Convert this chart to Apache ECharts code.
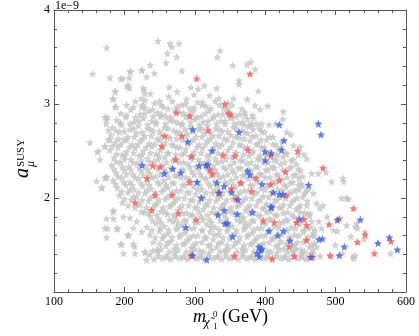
<!DOCTYPE html>
<html><head><meta charset="utf-8">
<script src="https://cdn.jsdelivr.net/npm/echarts/dist/echarts.min.js"></script>
<style>html,body{margin:0;padding:0;background:#fff}#c{width:419px;height:336px}</style>
</head><body><div id="c"></div>
<script>
// values of a_mu^SUSY are in units of 1e-9
const xTicks = [100, 200, 300, 400, 500, 600];
const yTicks = [1, 2, 3, 4];
const yExponent = '1e\u22129';

const grayOuter = [
[247.7,3.67],[174.8,3.60],[264.8,3.645],[267.1,3.61],[277.5,3.645],[335.8,3.57],[332,3.50],[261,3.54],[274.3,3.50],[259.1,3.44],
[154.9,3.32],[208.9,3.34],[179.5,3.28],[194.7,3.27],[225,3.36],[236.8,3.415],[242.5,3.33],[231.6,3.29],[281.8,3.355],[353.8,3.41],
[374.1,3.42],[379.4,3.447],[385.5,3.37],[362.8,3.25],[362.8,3.21],[331.1,3.167],[390.3,3.14],[313.5,3.195],[294.4,3.177],[204.2,3.184],
[207,3.167],[187.1,3.14],[184.4,3.05],[188.1,2.97],[263.8,3.18],[374.6,3.05],[403.5,2.98],[385.6,2.986],[392.9,2.943],[425.8,2.92],
[424.8,2.84],[415.3,2.79],[405.3,2.78],[387.9,2.79],[375.6,2.766],[151.1,2.59],[161.6,2.49],[165.3,2.41],[160.6,2.18],[168.2,2.11],
[175.8,2.86],[173.9,2.79],[177.2,2.72],[179.5,2.62],[172.4,2.546],[173.9,2.227],[174.8,1.78],[175.8,1.677],[174.8,1.58],[184.3,1.855],
[190.4,1.67],[198.5,1.41],[194.7,1.507],[214.6,1.482],[231.6,1.34],[229.2,1.42],[205.6,1.60],
[436.2,2.674],[449.4,2.546],[455.1,2.465],[458.9,2.42],[466,2.26],[475.5,2.26],[486.4,2.273],[494.3,2.174],[511.4,2.174],[510.4,2.21],
[508.6,2.0],[515.7,2.0],[518,1.99],[477.8,1.89],[480.2,1.677],[496.7,1.66],[502.4,1.65],[527.8,1.695],[531.1,1.68],[540.6,1.564],
[521.6,1.59],[499.6,1.50],[510,1.41],[524.4,1.376],[525.8,1.355],[578.1,1.41],[494.4,1.376],[477.8,1.383],[468.3,1.41],[451.8,1.41],
[439.9,1.44],[473,1.482],[468.3,1.624],[463.6,1.837],[470.7,1.66],[473.1,1.943],[468.3,2.05],[461.3,2.10],[447.1,2.138],
[184.3,1.78],[172.4,1.68],[198.5,1.80],[208,1.79],[217.5,1.75],[205.5,1.61],[196.2,1.51],[212.7,1.51],[215.1,1.41],[229.3,1.43],
[212.7,1.68],[224.6,1.64],[224.6,1.855],[189,1.68],[197.6,3.27],[207,3.28],[208,3.35],[224.6,3.36],[205.5,3.20],[186.6,3.13],
[183.4,3.06],[186.6,2.97],[226.8,3.17],[229.3,3.11],[224.6,2.97],[229.3,3.04],[172.4,2.86],[174.8,2.83],[162.9,2.50],[172.4,2.55],
[177.1,2.62],[167.7,2.11],[172.4,2.21],[174.8,2.22],[184.3,1.87],[354.7,3.06],[371.3,2.88],[383.1,2.85],[395,2.79],[368.9,2.78],
[440,2.56],[447,2.46],[430.6,2.70],[482,1.92],[488,1.80],[476,1.75],[515.8,1.71],[530,1.73],[541.8,1.64],[527.6,1.39]
];

const grayCore = [
[224,3.06],[237,3.11],[250,3.03],[263,3.08],[275,3.13],[288,3.05],[299,3.10],[311,3.02],[321,3.09],[334,3.06],[347,3.01],[228,3.15],[305,3.16],
[203,2.99],[216,3.03],[229,2.96],[243,3.01],[255,2.97],[268,3.03],[281,2.99],[293,2.95],[304,3.02],[316,2.98],[329,3.03],[341,2.96],[353,2.99],[367,2.95],
[195,2.90],[209,2.94],[222,2.89],[235,2.93],[247,2.91],[259,2.87],[272,2.94],[284,2.90],[297,2.92],[309,2.87],[320,2.93],[333,2.89],[346,2.92],[358,2.87],[371,2.91],[382,2.88],
[189,2.83],[202,2.86],[214,2.81],[227,2.85],[239,2.82],[251,2.87],[264,2.83],[276,2.80],[287,2.86],[300,2.84],[312,2.81],[325,2.85],[337,2.82],[350,2.86],[362,2.80],[375,2.84],
[183,2.75],[196,2.78],[208,2.73],[220,2.77],[233,2.74],[245,2.79],[257,2.75],[270,2.72],[282,2.78],[294,2.76],[306,2.73],[318,2.77],[330,2.74],[343,2.79],[355,2.75],[367,2.72],[379,2.77],[392,2.74],
[181,2.67],[193,2.70],[205,2.65],[217,2.69],[229,2.66],[241,2.71],[253,2.67],[265,2.64],[278,2.70],[290,2.68],[302,2.65],[314,2.69],[326,2.66],[339,2.71],[351,2.67],[363,2.64],[375,2.69],[387,2.66],[399,2.70],[411,2.65],
[187,2.59],[199,2.62],[211,2.57],[223,2.61],[235,2.58],[247,2.63],[258,2.59],[270,2.56],[282,2.62],[294,2.60],[306,2.57],[318,2.61],[330,2.58],[342,2.63],[354,2.59],[366,2.56],[378,2.61],[390,2.58],[402,2.62],[415,2.57],[424,2.60],
[179,2.51],[191,2.54],[203,2.49],[215,2.53],[227,2.50],[239,2.55],[251,2.51],[263,2.48],[275,2.54],[287,2.52],[299,2.49],[311,2.53],[323,2.50],[335,2.55],[347,2.51],[359,2.48],[371,2.53],[383,2.50],[395,2.54],[407,2.49],[419,2.52],[431,2.47],
[185,2.43],[197,2.46],[209,2.41],[221,2.45],[233,2.42],[245,2.47],[257,2.43],[269,2.40],[281,2.46],[293,2.44],[305,2.41],[317,2.45],[329,2.42],[341,2.47],[353,2.43],[365,2.40],[377,2.45],[389,2.42],[401,2.46],[413,2.41],[425,2.44],[437,2.40],
[182,2.35],[194,2.38],[206,2.33],[218,2.37],[230,2.34],[242,2.39],[254,2.35],[266,2.32],[278,2.38],[290,2.36],[302,2.33],[314,2.37],[326,2.34],[338,2.39],[350,2.35],[362,2.32],[374,2.37],[386,2.34],[398,2.38],[410,2.33],[422,2.36],[434,2.32],[444,2.36],
[188,2.27],[200,2.30],[212,2.25],[224,2.29],[236,2.26],[248,2.31],[260,2.27],[272,2.24],[284,2.30],[296,2.28],[308,2.25],[320,2.29],[332,2.26],[344,2.31],[356,2.27],[368,2.24],[380,2.29],[392,2.26],[404,2.30],[416,2.25],[428,2.28],[440,2.24],[450,2.29],
[184,2.19],[196,2.22],[208,2.17],[220,2.21],[232,2.18],[244,2.23],[256,2.19],[268,2.16],[280,2.22],[292,2.20],[304,2.17],[316,2.21],[328,2.18],[340,2.23],[352,2.19],[364,2.16],[376,2.21],[388,2.18],[400,2.22],[412,2.17],[424,2.20],[436,2.16],[448,2.21],
[190,2.11],[202,2.14],[214,2.09],[226,2.13],[238,2.10],[250,2.15],[262,2.11],[274,2.08],[286,2.14],[298,2.12],[310,2.09],[322,2.13],[334,2.10],[346,2.15],[358,2.11],[370,2.08],[382,2.13],[394,2.10],[406,2.14],[418,2.09],[430,2.12],[442,2.08],[453,2.13],
[193,2.03],[205,2.06],[217,2.01],[229,2.05],[241,2.02],[253,2.07],[265,2.03],[277,2.00],[289,2.06],[301,2.04],[313,2.01],[325,2.05],[337,2.02],[349,2.07],[361,2.03],[373,2.00],[385,2.05],[397,2.02],[409,2.06],[421,2.01],[433,2.04],[445,2.00],[456,2.05],
[197,1.95],[210,1.98],[222,1.93],[234,1.97],[246,1.94],[258,1.99],[270,1.95],[282,1.92],[294,1.98],[306,1.96],[318,1.93],[330,1.97],[342,1.94],[354,1.99],[366,1.95],[378,1.92],[390,1.97],[402,1.94],[414,1.98],[426,1.93],[438,1.96],[450,1.92],[460,1.97],
[215,1.90],[228,1.85],[240,1.89],[252,1.86],[264,1.91],[276,1.87],[288,1.84],[300,1.90],[312,1.88],[324,1.85],[336,1.89],[348,1.86],[360,1.91],[372,1.87],[384,1.84],[396,1.89],[408,1.86],[420,1.90],[432,1.85],[444,1.88],[456,1.84],
[237,1.81],[249,1.78],[261,1.83],[273,1.79],[285,1.76],[297,1.82],[309,1.80],[321,1.77],[333,1.81],[345,1.78],[357,1.83],[369,1.79],[381,1.76],[393,1.81],[405,1.78],[417,1.82],[429,1.77],[441,1.80],[453,1.76],[463,1.81],
[232,1.69],[245,1.73],[257,1.70],[269,1.75],[281,1.71],[293,1.68],[305,1.74],[317,1.72],[329,1.69],[341,1.73],[353,1.70],[365,1.75],[377,1.71],[389,1.68],[401,1.73],[413,1.70],[425,1.74],[437,1.69],[449,1.72],[461,1.68],
[236,1.61],[250,1.65],[262,1.62],[274,1.67],[286,1.63],[298,1.60],[310,1.66],[322,1.64],[334,1.61],[346,1.65],[358,1.62],[370,1.67],[382,1.63],[394,1.60],[406,1.65],[418,1.62],[430,1.66],[442,1.61],[454,1.64],[466,1.60],
[241,1.53],[254,1.57],[266,1.54],[278,1.59],[290,1.55],[302,1.52],[314,1.58],[326,1.56],[338,1.53],[350,1.57],[362,1.54],[374,1.59],[386,1.55],[398,1.52],[410,1.57],[422,1.54],[434,1.58],[446,1.53],[458,1.56],[470,1.52],
[246,1.45],[259,1.49],[271,1.46],[283,1.51],[295,1.47],[307,1.44],[319,1.50],[331,1.48],[343,1.45],[355,1.49],[367,1.46],[379,1.51],[391,1.47],[403,1.44],[415,1.49],[427,1.46],[439,1.50],[451,1.45],[463,1.48],
[236,1.40],[248,1.42],[260,1.39],[272,1.41],[284,1.38],[296,1.42],[308,1.39],[320,1.41],[332,1.38],[344,1.42],[356,1.39],[368,1.41],[380,1.38],[392,1.42],[404,1.39],[416,1.41],[428,1.38],[440,1.42],[452,1.39],[464,1.41],
[242,1.35],[254,1.36],[266,1.35],[278,1.36],[290,1.35],[302,1.36],[314,1.35],[326,1.36],[338,1.35],[350,1.36],[362,1.35],[374,1.36],[386,1.35],[398,1.36],[410,1.35],[422,1.36],[434,1.35],[446,1.36],[458,1.35]
];

const grayFill = [
[213,2.97],[226,2.99],[240,2.94],[252,2.99],[262,2.95],[275,2.97],[287,3.00],[299,2.96],[310,2.99],[323,2.95],[335,2.99],[347,2.95],
[203,2.88],[216,2.86],[229,2.90],[241,2.87],[253,2.89],[266,2.86],[278,2.91],[291,2.88],[303,2.86],[315,2.90],[327,2.87],[340,2.89],[352,2.85],[364,2.89],
[194,2.80],[208,2.79],[221,2.82],[233,2.78],[245,2.81],[258,2.79],[270,2.82],[282,2.79],[294,2.81],[306,2.78],[319,2.82],[331,2.79],[343,2.82],[356,2.79],[368,2.81],[381,2.79],
[188,2.72],[200,2.71],[213,2.74],[225,2.70],[237,2.73],[250,2.71],[262,2.74],[274,2.70],[286,2.73],[298,2.71],[310,2.74],[322,2.70],[335,2.73],[347,2.71],[359,2.74],[371,2.70],[383,2.73],[395,2.71],
[191,2.63],[203,2.62],[214,2.65],[226,2.63],[238,2.66],[250,2.62],[262,2.65],[274,2.63],[286,2.66],[298,2.62],[310,2.65],[322,2.63],[334,2.66],[346,2.62],[358,2.65],[370,2.63],[382,2.66],[394,2.62],[406,2.65],
[183,2.55],[195,2.57],[207,2.54],[219,2.57],[231,2.54],[243,2.57],[255,2.54],[267,2.57],[279,2.54],[291,2.57],[303,2.54],[315,2.57],[327,2.54],[339,2.57],[351,2.54],[363,2.57],[375,2.54],[387,2.57],[399,2.54],[411,2.57],[423,2.54],
[189,2.47],[201,2.45],[213,2.48],[225,2.46],[237,2.48],[249,2.45],[261,2.48],[273,2.46],[285,2.48],[297,2.45],[309,2.48],[321,2.46],[333,2.48],[345,2.45],[357,2.48],[369,2.46],[381,2.48],[393,2.45],[405,2.48],[417,2.46],[429,2.48],
[188,2.39],[200,2.41],[212,2.38],[224,2.40],[236,2.38],[248,2.41],[260,2.38],[272,2.40],[284,2.38],[296,2.41],[308,2.38],[320,2.40],[332,2.38],[344,2.41],[356,2.38],[368,2.40],[380,2.38],[392,2.41],[404,2.38],[416,2.40],[428,2.38],[440,2.41],
[185,2.31],[197,2.33],[209,2.30],[221,2.32],[233,2.30],[245,2.33],[257,2.30],[269,2.32],[281,2.30],[293,2.33],[305,2.30],[317,2.32],[329,2.30],[341,2.33],[353,2.30],[365,2.32],[377,2.30],[389,2.33],[401,2.30],[413,2.32],[425,2.30],[437,2.33],[447,2.31],
[191,2.23],[203,2.25],[215,2.22],[227,2.24],[239,2.22],[251,2.25],[263,2.22],[275,2.24],[287,2.22],[299,2.25],[311,2.22],[323,2.24],[335,2.22],[347,2.25],[359,2.22],[371,2.24],[383,2.22],[395,2.25],[407,2.22],[419,2.24],[431,2.22],[443,2.25],[453,2.23],
[187,2.15],[199,2.17],[211,2.14],[223,2.16],[235,2.14],[247,2.17],[259,2.14],[271,2.16],[283,2.14],[295,2.17],[307,2.14],[319,2.16],[331,2.14],[343,2.17],[355,2.14],[367,2.16],[379,2.14],[391,2.17],[403,2.14],[415,2.16],[427,2.14],[439,2.17],[451,2.15],
[196,2.07],[208,2.09],[220,2.06],[232,2.08],[244,2.06],[256,2.09],[268,2.06],[280,2.08],[292,2.06],[304,2.09],[316,2.06],[328,2.08],[340,2.06],[352,2.09],[364,2.06],[376,2.08],[388,2.06],[400,2.09],[412,2.06],[424,2.08],[436,2.06],[448,2.09],[458,2.07],
[200,1.99],[213,2.01],[225,1.98],[237,2.00],[249,1.98],[261,2.01],[273,1.98],[285,2.00],[297,1.98],[309,2.01],[321,1.98],[333,2.00],[345,1.98],[357,2.01],[369,1.98],[381,2.00],[393,1.98],[405,2.01],[417,1.98],[429,2.00],[441,1.98],[453,2.01],
[205,1.92],[219,1.94],[231,1.90],[243,1.93],[255,1.90],[267,1.93],[279,1.90],[291,1.92],[303,1.90],[315,1.93],[327,1.90],[339,1.92],[351,1.90],[363,1.93],[375,1.90],[387,1.92],[399,1.90],[411,1.93],[423,1.90],[435,1.92],[447,1.90],[459,1.92],
[234,1.84],[246,1.82],[258,1.85],[270,1.82],[282,1.84],[294,1.82],[306,1.85],[318,1.82],[330,1.84],[342,1.82],[354,1.85],[366,1.82],[378,1.84],[390,1.82],[402,1.85],[414,1.82],[426,1.84],[438,1.82],[450,1.85],[460,1.83],
[240,1.76],[252,1.74],[264,1.77],[276,1.74],[288,1.76],[300,1.74],[312,1.77],[324,1.74],[336,1.76],[348,1.74],[360,1.77],[372,1.74],[384,1.76],[396,1.74],[408,1.77],[420,1.74],[432,1.76],[444,1.74],[456,1.77],[466,1.75],
[239,1.66],[251,1.68],[263,1.66],[275,1.69],[287,1.66],[299,1.68],[311,1.66],[323,1.69],[335,1.66],[347,1.68],[359,1.66],[371,1.69],[383,1.66],[395,1.68],[407,1.66],[419,1.69],[431,1.66],[443,1.68],[455,1.66],[465,1.69],
[244,1.58],[256,1.60],[268,1.58],[280,1.61],[292,1.58],[304,1.60],[316,1.58],[328,1.61],[340,1.58],[352,1.60],[364,1.58],[376,1.61],[388,1.58],[400,1.60],[412,1.58],[424,1.61],[436,1.58],[448,1.60],[460,1.58],[470,1.60],
[250,1.51],[262,1.53],[274,1.50],[286,1.52],[298,1.50],[310,1.53],[322,1.50],[334,1.52],[346,1.50],[358,1.53],[370,1.50],[382,1.52],[394,1.50],[406,1.53],[418,1.50],[430,1.52],[442,1.50],[454,1.53],[466,1.50],
[240,1.44],[252,1.46],[264,1.43],[276,1.45],[288,1.43],[300,1.46],[312,1.43],[324,1.45],[336,1.43],[348,1.46],[360,1.43],[372,1.45],[384,1.43],[396,1.46],[408,1.43],[420,1.45],[432,1.43],[444,1.46],[456,1.43],[468,1.45],
[248,1.38],[260,1.37],[272,1.38],[284,1.37],[296,1.38],[308,1.37],[320,1.38],[332,1.37],[344,1.38],[356,1.37],[368,1.38],[380,1.37],[392,1.38],[404,1.37],[416,1.38],[428,1.37],[440,1.38],[452,1.37],[462,1.38]
];

const redPts = [
[302.7,3.27],[378.4,3.32],[273.8,2.908],[293.2,2.872],[342.9,3.0],[348.1,2.90],[351,2.89],[257.2,2.66],[281.3,2.66],[318.7,2.72],
[252.9,2.553],[339.6,2.454],[357.1,2.447],[375.6,2.51],[295.5,2.443],[272.8,2.411],[446.1,2.50],[407.8,2.45],[482.1,2.32],[240.2,2.344],
[251,2.333],[321.6,2.30],[325.4,2.255],[232.1,2.21],[292.2,2.17],[365.2,2.163],[387,2.213],[407.8,2.145],[420.1,2.19],[429.1,2.28],
[380.8,2.07],[351.9,2.10],[333.4,2.053],[268.1,2.032],[243.9,2.032],[429.5,2.028],[215.1,1.95],[358.5,1.99],[238.7,1.87],[276.6,1.837],
[301.7,1.77],[397.3,1.76],[412.9,1.74],[444.7,1.74],[454.2,1.777],[458.9,1.71],[505.3,1.78],[490.6,1.72],[525.5,1.89],[542,1.61],
[531.1,1.532],[578.6,1.54],[555,1.41],[458.9,1.55],[434.3,1.482],[441.4,1.38],[467.4,1.372],[492,1.39],[410,1.355],[356.2,1.383],[294.4,1.39]
];

const bluePts = [
[475.5,2.79],[479.3,2.674],[420.1,2.78],[426.7,2.613],[362.8,2.70],[297,2.73],[289.9,2.60],[324.9,2.504],[399.7,2.493],[408.7,2.475],
[423.3,2.51],[400.1,2.40],[225,2.35],[256.7,2.26],[268.6,2.31],[280,2.27],[306,2.344],[315.9,2.348],[318.7,2.355],[374.6,2.287],
[378.4,2.248],[303.1,2.17],[331.5,2.163],[341.5,2.124],[352.4,2.06],[334.8,2.057],[395.7,2.148],[411.4,2.06],[420.1,2.04],[425.3,2.04],
[461.6,2.138],[309.3,2.0],[361.4,1.982],[407.8,1.907],[409.3,1.90],[381.7,1.851],[341.9,1.87],[332.9,1.823],[360.4,1.83],[343.3,1.73],
[346.4,1.73],[287,1.69],[353.8,1.59],[404.9,1.65],[425.8,1.65],[417.8,1.60],[435.2,1.546],[448.4,1.78],[476.4,1.56],[481.2,1.567],
[502.5,1.766],[535.1,1.77],[512.4,1.482],[505.3,1.39],[560.2,1.52],[576.3,1.58],[587.7,1.45],[391.1,1.482],[393.5,1.443],[388.3,1.41],
[391.6,1.376],[395.3,1.46],[464.6,1.37],[297,1.39],[316.9,1.344]
];

const grayPts = grayOuter.concat(grayCore, grayFill);

const star = 'path://M0,-1L0.2645,-0.364L0.951,-0.309L0.428,0.139L0.588,0.809L0,0.45L-0.588,0.809L-0.428,0.139L-0.951,-0.309L-0.2645,-0.364Z';
const axisCol = '#555';
const serif = 'Liberation Serif';

function xAx(pos, showLabel) {
  return {
    type: 'value', position: pos, min: xTicks[0], max: xTicks[xTicks.length - 1], interval: xTicks[1] - xTicks[0],
    axisLine: { show: true, onZero: false, lineStyle: { color: axisCol, width: 1 } },
    axisTick: { show: true, inside: true, length: 5, lineStyle: { color: axisCol } },
    minorTick: { show: true, splitNumber: 5, length: 3, lineStyle: { color: axisCol } },
    splitLine: { show: false },
    axisLabel: { show: showLabel, color: '#000', fontFamily: serif, fontSize: 12, margin: 4 }
  };
}
function yAx(pos, showLabel) {
  return {
    type: 'value', position: pos, min: yTicks[0], max: yTicks[yTicks.length - 1], interval: yTicks[1] - yTicks[0],
    axisLine: { show: true, onZero: false, lineStyle: { color: axisCol, width: 1 } },
    axisTick: { show: true, inside: true, length: 5, lineStyle: { color: axisCol } },
    minorTick: { show: true, splitNumber: 5, length: 3, lineStyle: { color: axisCol } },
    splitLine: { show: false },
    axisLabel: { show: showLabel, showMinLabel: false, color: '#000', fontFamily: serif, fontSize: 12, margin: 4 }
  };
}

const chart = echarts.init(document.getElementById('c'), null, { renderer: 'canvas' });
chart.setOption({
  animation: false,
  backgroundColor: '#fff',
  grid: { left: 54, right: 13, top: 10, bottom: 44, containLabel: false },
  xAxis: [xAx('bottom', true), xAx('top', false)],
  yAxis: [yAx('left', true), yAx('right', false)],
  series: [
    { type: 'scatter', data: grayPts, symbol: star, symbolSize: 8, itemStyle: { color: '#c4c4c4' }, silent: true },
    { type: 'scatter', data: redPts, symbol: star, symbolSize: 8, itemStyle: { color: '#f25a5a' }, silent: true },
    { type: 'scatter', data: bluePts, symbol: star, symbolSize: 8, itemStyle: { color: '#3d5fd9' }, silent: true }
  ],
  graphic: [
    { type: 'text', x: 55, y: 0, style: { text: yExponent, font: '12px "Liberation Serif"', fill: '#000', align: 'left', verticalAlign: 'top' } },
    // x-axis title
    { type: 'text', x: 193, y: 326, style: { text: 'm', font: 'italic 18px "Liberation Serif"', fill: '#000', align: 'left', verticalAlign: 'bottom' } },
    { type: 'text', x: 204, y: 329, style: { text: '\u03C7\u0303', font: 'italic 13px "Liberation Serif"', fill: '#000', align: 'left', verticalAlign: 'bottom' } },
    { type: 'text', x: 213, y: 319, style: { text: '0', font: '9px "Liberation Serif"', fill: '#000', align: 'left', verticalAlign: 'bottom' } },
    { type: 'text', x: 213, y: 331, style: { text: '1', font: '9px "Liberation Serif"', fill: '#000', align: 'left', verticalAlign: 'bottom' } },
    { type: 'text', x: 222, y: 326, style: { text: '(GeV)', font: '18px "Liberation Serif"', fill: '#000', align: 'left', verticalAlign: 'bottom' } },
    // y-axis title (rotated)
    { type: 'text', x: 33, y: 178, rotation: Math.PI / 2, style: { text: 'a', font: 'italic 20px "Liberation Serif"', fill: '#000', align: 'left', verticalAlign: 'bottom' } },
    { type: 'text', x: 37, y: 167, rotation: Math.PI / 2, style: { text: '\u03BC', font: 'italic 12px "Liberation Serif"', fill: '#000', align: 'left', verticalAlign: 'bottom' } },
    { type: 'text', x: 27, y: 167, rotation: Math.PI / 2, style: { text: 'SUSY', font: '11px "Liberation Serif"', fill: '#000', align: 'left', verticalAlign: 'bottom' } }
  ]
});
</script>
</body></html>
